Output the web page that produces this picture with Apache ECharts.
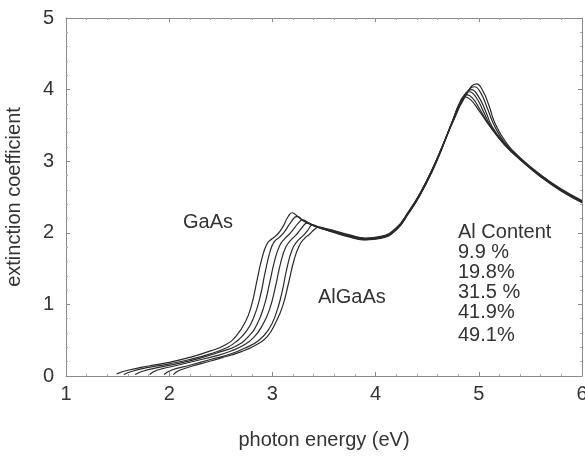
<!DOCTYPE html>
<html>
<head>
<meta charset="utf-8">
<script src="https://cdn.jsdelivr.net/npm/echarts@6/dist/echarts.min.js"></script>
<style>
  html, body { margin: 0; padding: 0; background: #fff; }
  #chart { width: 585px; height: 456px; }
</style>
</head>
<body>
<div id="chart"></div>
<script>
// axis ticks
const xTicks = [1, 2, 3, 4, 5, 6]
const yTicks = [0, 1, 2, 3, 4, 5]

// labels written in the plot
const seriesNames = ['GaAs', '9.9 %', '19.8%', '31.5 %', '41.9%', '49.1%']

// extinction coefficient vs photon energy [eV, k]
const gaas = [
  [1.49, 0.03], [1.6, 0.08], [1.8, 0.14], [2.0, 0.19], [2.2, 0.26], [2.4, 0.35],
  [2.55, 0.44], [2.65, 0.56], [2.74, 0.76], [2.8, 1.0], [2.85, 1.33], [2.9, 1.65],
  [2.95, 1.85], [3.0, 1.92], [3.05, 1.98], [3.1, 2.08], [3.15, 2.22], [3.19, 2.28],
  [3.25, 2.22], [3.32, 2.15], [3.4, 2.1], [3.5, 2.05], [3.6, 2.0], [3.75, 1.94],
  [3.9, 1.9], [4.05, 1.92], [4.2, 2.04], [4.32, 2.27], [4.43, 2.52], [4.55, 2.86],
  [4.65, 3.2], [4.75, 3.58], [4.81, 3.8], [4.86, 3.9], [4.92, 3.86], [5.0, 3.71],
  [5.1, 3.5], [5.25, 3.23], [5.4, 3.02], [5.6, 2.78], [5.8, 2.58], [6.0, 2.42]
]
const al099 = [
  [1.56, 0.02], [1.65, 0.07], [1.8, 0.12], [2.0, 0.17], [2.2, 0.23], [2.4, 0.31],
  [2.55, 0.39], [2.65, 0.48], [2.75, 0.63], [2.82, 0.82], [2.88, 1.1], [2.93, 1.45],
  [2.98, 1.75], [3.02, 1.88], [3.07, 1.94], [3.12, 2.02], [3.18, 2.15], [3.24, 2.23],
  [3.3, 2.17], [3.4, 2.1], [3.5, 2.05], [3.6, 2.01], [3.75, 1.95],
  [3.9, 1.905], [4.05, 1.93], [4.2, 2.05], [4.32, 2.28], [4.43, 2.53], [4.55, 2.87],
  [4.65, 3.21], [4.75, 3.58], [4.82, 3.82], [4.88, 3.93], [4.94, 3.88], [5.02, 3.7],
  [5.1, 3.51], [5.25, 3.23], [5.4, 3.03], [5.6, 2.79], [5.8, 2.59], [6.0, 2.43]
]
const al198 = [
  [1.67, 0.02], [1.75, 0.07], [1.9, 0.12], [2.1, 0.18], [2.3, 0.25], [2.5, 0.34],
  [2.65, 0.42], [2.76, 0.54], [2.85, 0.72], [2.92, 0.98], [2.97, 1.28], [3.02, 1.6],
  [3.07, 1.82], [3.12, 1.92], [3.17, 1.99], [3.22, 2.08], [3.26, 2.15], [3.29, 2.18],
  [3.35, 2.14], [3.42, 2.09], [3.5, 2.05], [3.6, 2.01], [3.75, 1.95],
  [3.9, 1.91], [4.05, 1.93], [4.2, 2.05], [4.32, 2.28], [4.43, 2.54], [4.55, 2.88],
  [4.65, 3.21], [4.75, 3.58], [4.83, 3.85], [4.91, 3.97], [4.97, 3.9], [5.04, 3.71],
  [5.12, 3.48], [5.25, 3.24], [5.4, 3.03], [5.6, 2.79], [5.8, 2.59], [6.0, 2.43]
]
const al315 = [
  [1.81, 0.02], [1.88, 0.08], [2.05, 0.14], [2.25, 0.21], [2.45, 0.28], [2.6, 0.35],
  [2.72, 0.43], [2.82, 0.54], [2.9, 0.7], [2.97, 0.92], [3.03, 1.25], [3.08, 1.58],
  [3.13, 1.8], [3.18, 1.9], [3.23, 1.97], [3.28, 2.06], [3.34, 2.14], [3.4, 2.1],
  [3.5, 2.06], [3.6, 2.02], [3.75, 1.96],
  [3.9, 1.915], [4.05, 1.94], [4.2, 2.06], [4.32, 2.29], [4.43, 2.54], [4.55, 2.88],
  [4.65, 3.22], [4.75, 3.57], [4.84, 3.86], [4.93, 4.0], [4.99, 3.92], [5.06, 3.72],
  [5.13, 3.48], [5.25, 3.25], [5.4, 3.04], [5.6, 2.8], [5.8, 2.6], [6.0, 2.44]
]
const al419 = [
  [1.95, 0.02], [2.02, 0.08], [2.2, 0.15], [2.4, 0.23], [2.6, 0.31], [2.75, 0.4],
  [2.87, 0.5], [2.96, 0.64], [3.03, 0.85], [3.09, 1.15], [3.14, 1.5], [3.19, 1.76],
  [3.24, 1.88], [3.29, 1.95], [3.34, 2.03], [3.39, 2.11], [3.45, 2.08], [3.52, 2.05],
  [3.6, 2.02], [3.75, 1.96],
  [3.9, 1.92], [4.05, 1.94], [4.2, 2.06], [4.32, 2.29], [4.43, 2.55], [4.55, 2.89],
  [4.65, 3.22], [4.75, 3.56], [4.85, 3.87], [4.96, 4.04], [5.02, 3.95], [5.08, 3.75],
  [5.15, 3.5], [5.25, 3.26], [5.4, 3.04], [5.6, 2.8], [5.8, 2.6], [6.0, 2.44]
]
const al491 = [
  [2.04, 0.02], [2.1, 0.08], [2.3, 0.17], [2.5, 0.25], [2.7, 0.34], [2.85, 0.44],
  [2.95, 0.55], [3.03, 0.74], [3.1, 0.98], [3.16, 1.32], [3.21, 1.62], [3.26, 1.82],
  [3.31, 1.92], [3.36, 1.98], [3.41, 2.05], [3.45, 2.08], [3.52, 2.06],
  [3.6, 2.03], [3.75, 1.97],
  [3.9, 1.925], [4.05, 1.95], [4.2, 2.07], [4.32, 2.3], [4.43, 2.55], [4.55, 2.89],
  [4.65, 3.22], [4.75, 3.55], [4.86, 3.88], [4.98, 4.08], [5.04, 3.98], [5.1, 3.77],
  [5.16, 3.52], [5.27, 3.25], [5.4, 3.05], [5.6, 2.81], [5.8, 2.61], [6.0, 2.45]
]
const curves = [gaas, al099, al198, al315, al419, al491]

const txtColor = '#333'
const frameColor = '#8a8a8a'
const font = 'Liberation Sans, Arial, sans-serif'

const chart = echarts.init(document.getElementById('chart'))

const baseAxis = {
  type: 'value',
  axisLine: { show: true, onZero: false, lineStyle: { color: frameColor, width: 1 } },
  axisTick: { show: true, inside: true, length: 4, lineStyle: { color: frameColor } },
  minorTick: { show: true, splitNumber: 5, length: 2, lineStyle: { color: '#aaa' } },
  splitLine: { show: false }
}

const option = {
  animation: false,
  backgroundColor: '#fff',
  grid: { left: 66, right: 3, top: 18, bottom: 80, containLabel: false, outerBoundsMode: 'none' },
  xAxis: [
    Object.assign({}, baseAxis, {
      min: xTicks[0], max: xTicks[xTicks.length - 1], interval: 1,
      position: 'bottom',
      name: 'photon energy (eV)',
      nameLocation: 'middle',
      nameGap: 54,
      nameTextStyle: { color: txtColor, fontSize: 20, fontFamily: font },
      axisLabel: { color: txtColor, fontSize: 20, fontFamily: font, margin: 8 }
    }),
    Object.assign({}, baseAxis, {
      min: xTicks[0], max: xTicks[xTicks.length - 1], interval: 1,
      position: 'top',
      axisLabel: { show: false }
    })
  ],
  yAxis: [
    Object.assign({}, baseAxis, {
      min: yTicks[0], max: yTicks[yTicks.length - 1], interval: 1,
      position: 'left',
      name: 'extinction coefficient',
      nameLocation: 'middle',
      nameGap: 42,
      nameTextStyle: { color: txtColor, fontSize: 20, fontFamily: font },
      axisLabel: { color: txtColor, fontSize: 20, fontFamily: font, margin: 12 }
    }),
    Object.assign({}, baseAxis, {
      min: yTicks[0], max: yTicks[yTicks.length - 1], interval: 1,
      position: 'right',
      axisLabel: { show: false }
    })
  ],
  graphic: [
    { type: 'text', left: 183, top: 212, style: { text: 'GaAs', fill: txtColor, font: '20px ' + font } },
    { type: 'text', left: 318, top: 287, style: { text: 'AlGaAs', fill: txtColor, font: '20px ' + font } },
    { type: 'text', left: 458, top: 222, style: { text: 'Al Content', fill: txtColor, font: '20px ' + font } },
    { type: 'text', left: 458, top: 242, style: { text: seriesNames[1], fill: txtColor, font: '20px ' + font } },
    { type: 'text', left: 458, top: 262, style: { text: seriesNames[2], fill: txtColor, font: '20px ' + font } },
    { type: 'text', left: 458, top: 282, style: { text: seriesNames[3], fill: txtColor, font: '20px ' + font } },
    { type: 'text', left: 458, top: 302, style: { text: seriesNames[4], fill: txtColor, font: '20px ' + font } },
    { type: 'text', left: 458, top: 325, style: { text: seriesNames[5], fill: txtColor, font: '20px ' + font } }
  ],
  series: curves.map((d, i) => ({
    name: seriesNames[i],
    type: 'line',
    data: d,
    smooth: 0.5,
    showSymbol: false,
    lineStyle: { color: '#2a2a2a', width: 1.2 }
  }))
}

chart.setOption(option)
</script>
</body>
</html>
